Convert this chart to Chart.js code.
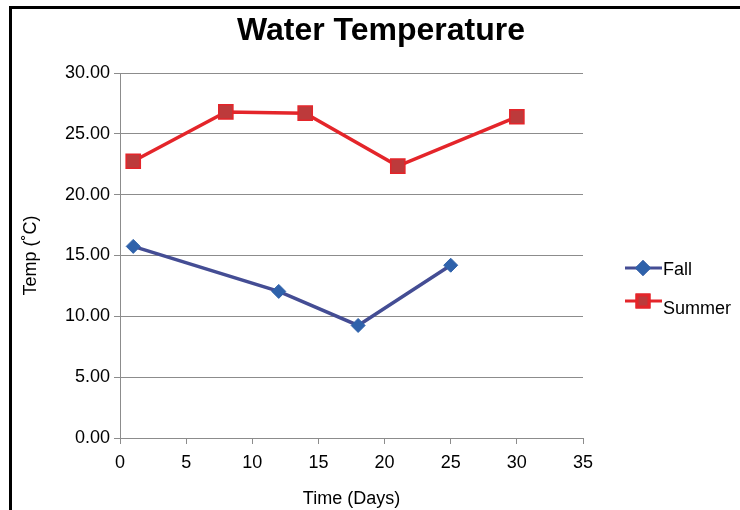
<!DOCTYPE html>
<html>
<head>
<meta charset="utf-8">
<script src="https://cdn.jsdelivr.net/npm/chart.js@4/dist/chart.umd.min.js"></script>
<style>
    body { margin: 0; background: #fff; }
    #wrap { position: relative; width: 740px; height: 510px; overflow: hidden; }
    #frame {
        position: absolute; left: 9px; top: 6px; width: 760px; height: 520px;
        border-top: 3px solid #000; border-left: 3px solid #000;
        pointer-events: none;
    }
</style>
</head>
<body>
<div id="wrap">
    <canvas id="tempChart" width="740" height="510"></canvas>
    <div id="frame"></div>
</div>
<script>
// Water temperature readings
const FALL_DAYS = [1, 12, 18, 25];
const FALL_TEMPS = [15.75, 12.05, 9.25, 14.2];
const SUMMER_DAYS = [1, 8, 14, 21, 30];
const SUMMER_TEMPS = [22.75, 26.8, 26.7, 22.35, 26.4];

const X_MIN = 0, X_MAX = 35, X_STEP = 5;
const Y_MIN = 0, Y_MAX = 30, Y_STEP = 5;

const FONT = 'Liberation Sans, Arial, Helvetica, sans-serif';
const FALL_LINE = '#444d94';
const FALL_MARK = '#2f62ab';
const SUMMER_LINE = '#e4252a';
const SUMMER_MARK = '#bd3a3b';

function toPoints(xs, ys) {
    return xs.map((x, i) => ({ x, y: ys[i] }));
}

// Title drawn on top of the canvas, centered over the plot
const titlePlugin = {
    id: 'bigTitle',
    afterDraw(chart) {
        const { ctx } = chart;
        ctx.save();
        ctx.font = 'bold 32px ' + FONT;
        ctx.fillStyle = '#000';
        ctx.textAlign = 'center';
        ctx.textBaseline = 'middle';
        ctx.fillText('Water Temperature', 381, 31);
        ctx.restore();
    }
};

// Legend with a short line plus marker, like the spreadsheet original
const sideLegend = {
    id: 'sideLegend',
    afterDraw(chart) {
        const { ctx } = chart;
        const rows = [
            { idx: 0, lineY: 268, textY: 270 },
            { idx: 1, lineY: 301, textY: 309 }
        ];
        rows.forEach(r => {
            const ds = chart.data.datasets[r.idx];
            ctx.save();
            ctx.strokeStyle = ds.borderColor;
            ctx.lineWidth = 3;
            ctx.beginPath();
            ctx.moveTo(625, r.lineY);
            ctx.lineTo(662, r.lineY);
            ctx.stroke();
            Chart.helpers.drawPoint(ctx, {
                pointStyle: ds.pointStyle,
                radius: ds.pointRadius * 0.85,
                borderWidth: ds.pointBorderWidth,
                rotation: 0
            }, 643, r.lineY);
            ctx.fillStyle = ds.pointBackgroundColor;
            ctx.strokeStyle = ds.pointBorderColor;
            ctx.fill();
            ctx.stroke();
            ctx.font = '18px ' + FONT;
            ctx.fillStyle = '#000';
            ctx.textBaseline = 'middle';
            ctx.fillText(ds.label, 663, r.textY);
            ctx.restore();
        });
    }
};

new Chart(document.getElementById('tempChart'), {
    type: 'scatter',
    data: {
        datasets: [
            {
                label: 'Fall',
                data: toPoints(FALL_DAYS, FALL_TEMPS),
                showLine: true,
                borderColor: FALL_LINE,
                borderWidth: 3.5,
                pointStyle: 'rectRot',
                pointRadius: 7,
                pointBackgroundColor: FALL_MARK,
                pointBorderColor: FALL_MARK,
                pointBorderWidth: 1
            },
            {
                label: 'Summer',
                data: toPoints(SUMMER_DAYS, SUMMER_TEMPS),
                showLine: true,
                borderColor: SUMMER_LINE,
                borderWidth: 3.5,
                pointStyle: 'rect',
                pointRadius: 10,
                pointBackgroundColor: SUMMER_MARK,
                pointBorderColor: SUMMER_LINE,
                pointBorderWidth: 1.5
            }
        ]
    },
    options: {
        responsive: false,
        animation: false,
        layout: { padding: { top: 73, right: 157, bottom: 0, left: 0 } },
        plugins: {
            legend: { display: false },
            title: { display: false },
            tooltip: { enabled: false }
        },
        scales: {
            x: {
                type: 'linear',
                min: X_MIN, max: X_MAX,
                afterFit(scale) { scale.height = 72; },
                ticks: {
                    stepSize: X_STEP,
                    color: '#000',
                    font: { family: FONT, size: 18 },
                    padding: 8,
                    maxRotation: 0
                },
                grid: {
                    drawOnChartArea: false,
                    drawTicks: true,
                    tickLength: 6,
                    color: '#8c8c8c'
                },
                border: { color: '#8c8c8c', width: 1 },
                title: {
                    display: true,
                    text: 'Time (Days)',
                    color: '#000',
                    font: { family: FONT, size: 18 },
                    padding: { top: 6, bottom: 0 }
                }
            },
            y: {
                min: Y_MIN, max: Y_MAX,
                afterFit(scale) { scale.width = 120; },
                ticks: {
                    stepSize: Y_STEP,
                    color: '#000',
                    font: { family: FONT, size: 18 },
                    padding: 4,
                    callback: v => v.toFixed(2)
                },
                grid: {
                    color: '#8c8c8c',
                    lineWidth: 1,
                    tickLength: 6
                },
                border: { color: '#8c8c8c', width: 1 },
                title: {
                    display: true,
                    text: 'Temp (˚C)',
                    color: '#000',
                    font: { family: FONT, size: 18 },
                    padding: { top: 20, bottom: 0 }
                }
            }
        }
    },
    plugins: [titlePlugin, sideLegend]
});
</script>
</body>
</html>
